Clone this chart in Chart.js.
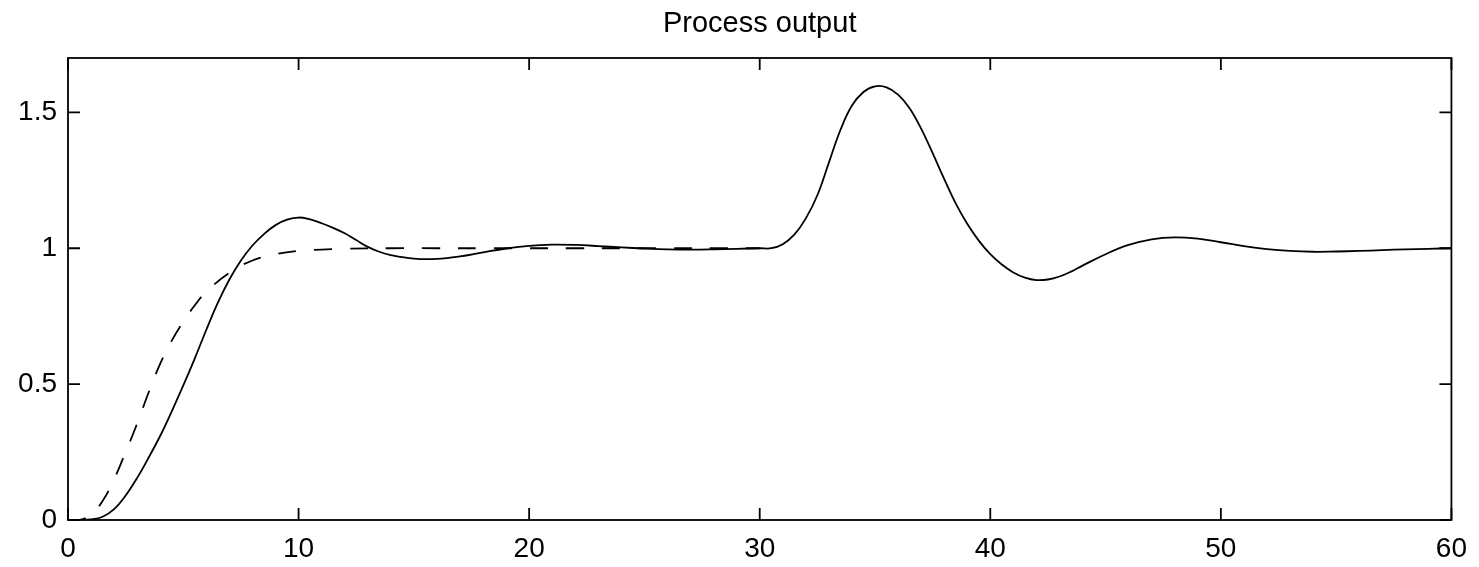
<!DOCTYPE html>
<html>
<head>
<meta charset="utf-8">
<title>Process output</title>
<script src="https://cdn.jsdelivr.net/npm/chart.js@4/dist/chart.umd.min.js"></script>
<style>
  html, body { margin:0; padding:0; background:#fff; }
  #wrap { width:1479px; height:567px; }
</style>
</head>
<body>
<div id="wrap"><canvas id="chart" width="1479" height="567"></canvas></div>
<script>
// process output (solid)
const tProc = [0,0.5,1,1.5,2,2.5,3,3.5,4,4.5,5,5.5,6,6.5,7,7.5,8,8.5,9,9.5,10,10.5,11,11.5,12,12.5,13,13.5,14,15,16,17,18,19,20,21,22,23,24,25,26,27,28,29,30,30.5,31,31.5,32,32.5,33,33.5,34,34.5,35,35.5,36,36.5,37,37.5,38,38.5,39,39.5,40,40.5,41,41.5,42,42.5,43,43.5,44,45,46,47,48,49,50,51,52,53,54,55,56,57,58,59,60];
const yProc = [0,0,0.002,0.012,0.04,0.09,0.155,0.23,0.31,0.4,0.495,0.595,0.7,0.8,0.885,0.955,1.01,1.052,1.085,1.105,1.113,1.106,1.092,1.075,1.055,1.03,1.005,0.987,0.975,0.962,0.961,0.97,0.985,0.999,1.009,1.013,1.012,1.008,1.003,0.999,0.996,0.995,0.996,0.998,1.0,1.0,1.015,1.05,1.11,1.195,1.315,1.435,1.525,1.575,1.596,1.592,1.565,1.515,1.44,1.35,1.255,1.165,1.09,1.028,0.978,0.94,0.911,0.892,0.883,0.885,0.896,0.914,0.936,0.978,1.012,1.033,1.04,1.035,1.022,1.008,0.997,0.99,0.987,0.988,0.99,0.993,0.996,0.998,1.0];

// reference model (dashed)
const tRef = [0,0.5,1,1.5,2,2.5,3,3.5,4,4.5,5,5.5,6,7,8,9,10,11,12,14,16,18,20,22,24,26,28,30];
const yRef = [0,0,0.02,0.07,0.15,0.25,0.355,0.47,0.575,0.66,0.73,0.79,0.84,0.91,0.955,0.978,0.99,0.995,0.998,1,1,1,1,1,1,1,1,1];

const xTicks = [0,10,20,30,40,50,60];
const yTicks = [0,0.5,1,1.5];
const titleText = "Process output";

const FONT = "'Liberation Sans', Arial, sans-serif";
const toPts = (xs, ys) => xs.map((x,i)=>({x, y: ys[i]}));

// box + inward ticks + title
const frame = {
  id: "frame",
  afterDraw(chart){
    const {ctx, chartArea:a, scales:{x, y}} = chart;
    const tl = 12;
    ctx.save();
    ctx.strokeStyle = "#000";
    ctx.lineWidth = 1.8;
    ctx.strokeRect(a.left, a.top, a.right - a.left, a.bottom - a.top);
    ctx.beginPath();
    xTicks.forEach(v=>{
      const px = x.getPixelForValue(v);
      ctx.moveTo(px, a.bottom); ctx.lineTo(px, a.bottom - tl);
      ctx.moveTo(px, a.top); ctx.lineTo(px, a.top + tl);
    });
    yTicks.forEach(v=>{
      const py = y.getPixelForValue(v);
      ctx.moveTo(a.left, py); ctx.lineTo(a.left + tl, py);
      ctx.moveTo(a.right, py); ctx.lineTo(a.right - tl, py);
    });
    ctx.stroke();
    ctx.fillStyle = "#000";
    ctx.font = "29px " + FONT;
    ctx.textAlign = "center";
    ctx.textBaseline = "alphabetic";
    ctx.fillText(titleText, (a.left + a.right) / 2, 32);
    ctx.restore();
  }
};

new Chart(document.getElementById("chart"), {
  type: "line",
  data: {
    datasets: [
      { label: "process", data: toPts(tProc, yProc), borderColor: "#000", borderWidth: 1.8,
        pointRadius: 0, fill: false, tension: 0.4 },
      { label: "reference", data: toPts(tRef, yRef), borderColor: "#000", borderWidth: 1.8,
        borderDash: [18, 18], pointRadius: 0, fill: false, tension: 0.4 }
    ]
  },
  options: {
    responsive: false,
    animation: false,
    layout: { padding: { left: 0, right: 23, top: 58, bottom: 0 } },
    plugins: { legend: { display: false }, tooltip: { enabled: false }, title: { display: false } },
    scales: {
      x: {
        type: "linear", min: 0, max: 60,
        grid: { display: false, drawTicks: false },
        border: { display: false },
        afterBuildTicks: s => { s.ticks = xTicks.map(v => ({ value: v })); },
        afterFit: s => { s.height = 47; },
        ticks: { color: "#000", padding: 12, maxRotation: 0, autoSkip: false,
                 font: { family: FONT, size: 28 }, callback: v => String(v) }
      },
      y: {
        min: 0, max: 1.7,
        grid: { display: false, drawTicks: false },
        border: { display: false },
        afterBuildTicks: s => { s.ticks = yTicks.map(v => ({ value: v })); },
        afterFit: s => { s.width = 68; },
        ticks: { color: "#000", padding: 11, autoSkip: false,
                 font: { family: FONT, size: 28 }, callback: v => String(Math.round(v * 10) / 10) }
      }
    }
  },
  plugins: [frame]
});
</script>
</body>
</html>
